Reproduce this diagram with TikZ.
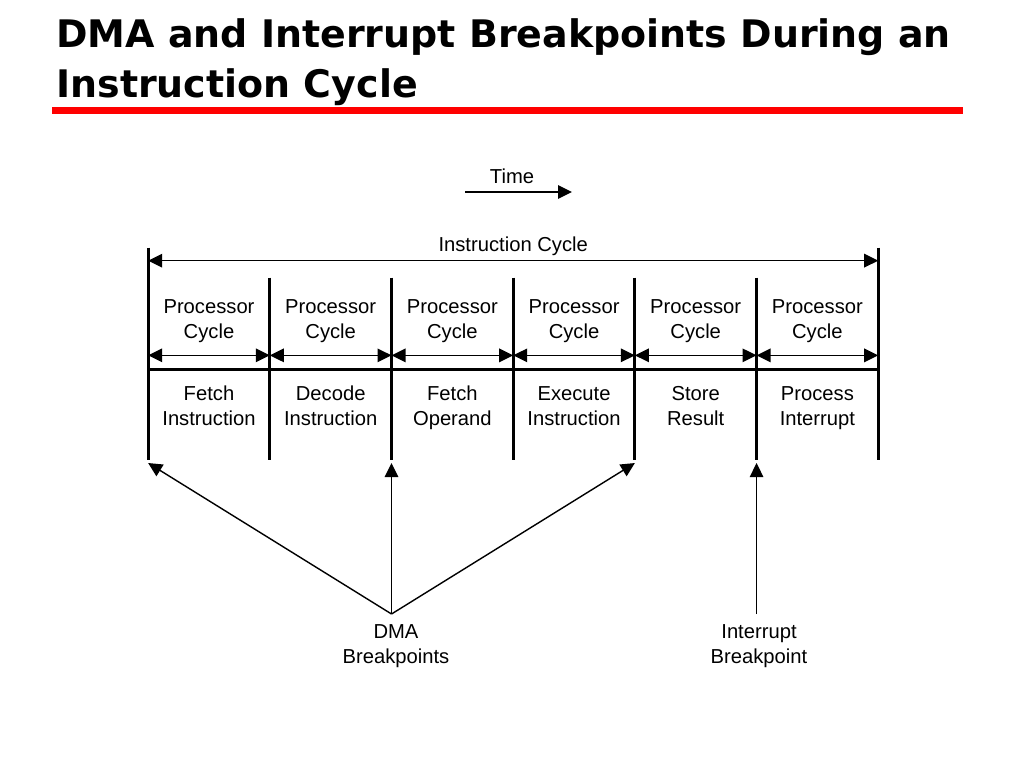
\documentclass[tikz,border=0pt]{standalone}
\usepackage{fontspec}
\setmainfont{Liberation Sans}
\newfontfamily\titlefont{DejaVu Sans}
\usetikzlibrary{arrows.meta}
\usetikzlibrary{positioning}

\begin{document}
\begin{tikzpicture}[x=0.02cm, y=-0.02cm, font=\fontsize{11.5}{14.2}\selectfont]

		\tikzstyle{bar} = [line width=1.7pt]
		\tikzstyle{edge} = [->, thick, -{Triangle[length=2.8mm, width=2.7mm]}]
		\tikzstyle{edge_both} = [thick, {Triangle[length=2.8mm, width=2.7mm]}-{Triangle[length=2.8mm, width=2.7mm]}]
		\tikzstyle{cell} = [minimum width=2.42cm, minimum height=1.54cm, inner sep=0, align=center, text height=25pt, text depth=0pt]
		\tikzstyle{step_cell} = [minimum width=2.42cm, minimum height=2.08cm, inner sep=0, align=center, text height=21pt, text depth=1pt]
		\tikzstyle{title} = [anchor=base west, inner sep=0, font=\titlefont\bfseries\fontsize{21.6}{26}\selectfont]

		\useasboundingbox (0,0) rectangle (1024,768);

		\node[title] (title1) at (56,47) {DMA and Interrupt Breakpoints During an};
		\node[title] (title2) at (56,97) {Instruction Cycle};
		\fill[red] (52,107) rectangle (963,114);

		\node (time) at (512,176) {Time};
		\coordinate (time_l) at (465,192);
		\coordinate (time_r) at (572,192);
		\draw[edge] (time_l) -- (time_r);

		\node[cell](P1) at (209,316.5){Processor\\Cycle};
		\node[cell](P2) [right=0pt of P1]{Processor\\Cycle};
		\node[cell](P3) [right=0pt of P2]{Processor\\Cycle};
		\node[cell](P4) [right=0pt of P3]{Processor\\Cycle};
		\node[cell](P5) [right=0pt of P4]{Processor\\Cycle};
		\node[cell](P6) [right=0pt of P5]{Processor\\Cycle};

		\node[step_cell](S1) [below=0pt of P1]{Fetch\\Instruction};
		\node[step_cell](S2) [below=0pt of P2]{Decode\\Instruction};
		\node[step_cell](S3) [below=0pt of P3]{Fetch\\Operand};
		\node[step_cell](S4) [below=0pt of P4]{Execute\\Instruction};
		\node[step_cell](S5) [below=0pt of P5]{Store\\Result};
		\node[step_cell](S6) [below=0pt of P6]{Process\\Interrupt};

		\draw[bar] ([yshift=0.6cm]P1.north west) -- (S1.south west);
		\draw[bar] (P2.north west) -- (S2.south west);
		\draw[bar] (P3.north west) -- (S3.south west);
		\draw[bar] (P4.north west) -- (S4.south west);
		\draw[bar] (P5.north west) -- (S5.south west);
		\draw[bar] (P6.north west) -- (S6.south west);
		\draw[bar] ([yshift=0.6cm]P6.north east) -- (S6.south east);
		\draw[bar] ([yshift=-0.28cm]P1.south west) -- ([yshift=-0.28cm]P6.south east);

		\draw[edge_both] ([yshift=0.34cm]P1.north west) -- node[above, yshift=-1pt]{Instruction Cycle} ([yshift=0.34cm]P6.north east);

		\draw[edge_both] (P1.south west) -- (P1.south east);
		\draw[edge_both] (P2.south west) -- (P2.south east);
		\draw[edge_both] (P3.south west) -- (P3.south east);
		\draw[edge_both] (P4.south west) -- (P4.south east);
		\draw[edge_both] (P5.south west) -- (P5.south east);
		\draw[edge_both] (P6.south west) -- (P6.south east);

		\coordinate (dma_src) at ([yshift=-3.08cm]S3.south west);
		\coordinate (intr_src) at ([yshift=-3.08cm]S6.south west);
		\node[align=center](dma) at (396,646){DMA\\Breakpoints};
		\node[align=center](intr) at (759,646){Interrupt\\Breakpoint};

		\draw[edge] (dma_src) -- ([yshift=-0.06cm]S1.south west);
		\draw[edge] (dma_src) -- ([yshift=-0.06cm]S3.south west);
		\draw[edge] (dma_src) -- ([yshift=-0.06cm]S5.south west);
		\draw[edge] (intr_src) -- ([yshift=-0.06cm]S6.south west);

\end{tikzpicture}
\end{document}
